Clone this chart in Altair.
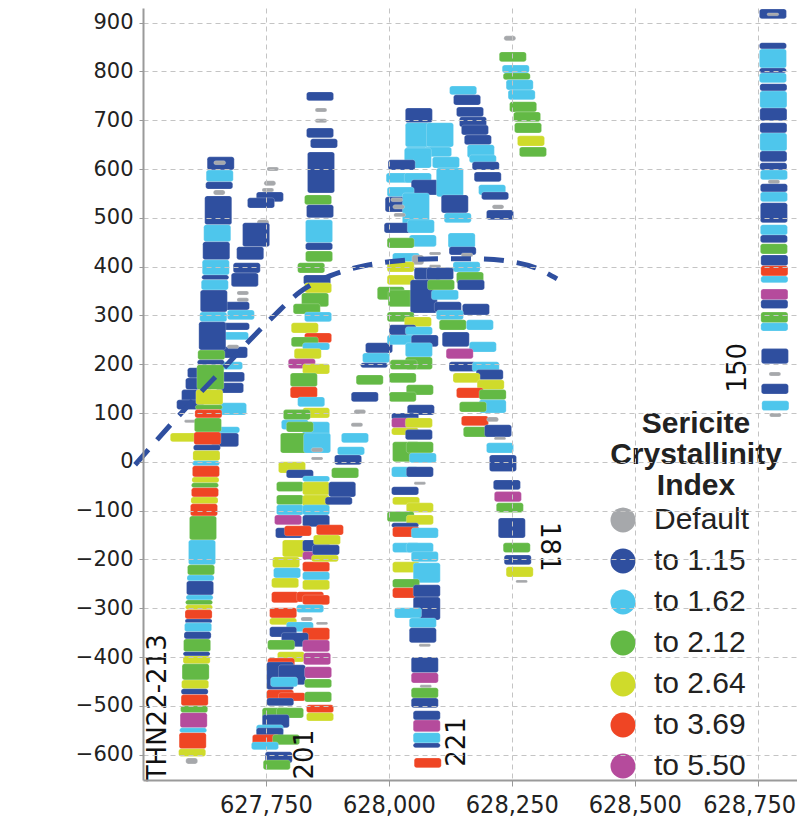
import altair as alt
import pandas as pd

# ---- classes -------------------------------------------------------------
class_labels = ["Default", "to 1.15", "to 1.62", "to 2.12", "to 2.64", "to 3.69", "to 5.50"]
class_colors = ["#a6a8ab", "#2f4f9f", "#4ec6ec", "#63b945", "#cfdb2b", "#ef4524", "#b54b9c"]

# ---- drill hole intervals: (easting, top elevation, bottom elevation, class index)
hole_213b = [
    (627764, 604, 596, 0), (627758, 576, 566, 0), (627754, 561, 553, 0),
    (627758, 553, 533, 1), (627740, 541, 520, 1), (627744, 496, 486, 0),
    (627730, 490, 441, 1), (627718, 441, 414, 1), (627711, 408, 387, 1),
    (627707, 387, 359, 1), (627703, 350, 342, 0), (627703, 336, 328, 0),
    (627689, 328, 311, 1), (627699, 311, 291, 2), (627689, 285, 270, 1),
    (627687, 266, 250, 2), (627685, 236, 213, 1), (627683, 240, 232, 0),
    (627675, 205, 189, 2), (627679, 184, 164, 1), (627677, 162, 141, 1),
    (627683, 121, 96, 2), (627669, 72, 59, 2), (627667, 59, 31, 1),
    (627618, 193, 172, 1), (627614, 172, 148, 1), (627606, 148, 123, 1),
    (627596, 127, 107, 1), (627583, 59, 41, 4), (627596, 86, 80, 0),
]

hole_213 = [
    (627658, 625, 598, 1), (627656, 617, 609, 0), (627656, 598, 574, 2),
    (627655, 574, 559, 1), (627655, 557, 547, 0), (627653, 545, 486, 1),
    (627651, 486, 451, 2), (627649, 451, 414, 1), (627648, 414, 383, 2),
    (627647, 383, 373, 1), (627646, 373, 352, 2), (627644, 352, 307, 1),
    (627643, 307, 287, 2), (627641, 287, 229, 1), (627639, 229, 209, 3),
    (627638, 209, 199, 1), (627637, 199, 148, 3), (627635, 148, 117, 4),
    (627634, 117, 107, 3), (627633, 107, 90, 5), (627632, 90, 61, 3),
    (627631, 61, 35, 5), (627630, 35, 23, 1), (627629, 23, 2, 4),
    (627628, 2, -8, 2), (627628, -8, -31, 5), (627627, -31, -43, 4),
    (627626, -43, -53, 3), (627626, -53, -72, 5), (627625, -72, -86, 4),
    (627624, -86, -111, 5), (627622, -111, -160, 3), (627620, -160, -211, 2),
    (627618, -211, -232, 3), (627617, -232, -244, 2), (627616, -244, -273, 1),
    (627615, -273, -283, 2), (627614, -283, -293, 3), (627614, -293, -303, 4),
    (627613, -303, -322, 5), (627613, -322, -330, 1), (627612, -330, -348, 2),
    (627611, -348, -363, 1), (627610, -363, -389, 3), (627609, -389, -398, 1),
    (627609, -398, -414, 4), (627607, -414, -447, 3), (627606, -447, -465, 4),
    (627605, -465, -477, 1), (627605, -477, -500, 5), (627604, -500, -514, 3),
    (627603, -514, -545, 6), (627602, -545, -555, 2), (627601, -555, -588, 5),
    (627600, -588, -604, 4), (627599, -607, -619, 0),
]

hole_201 = [
    (627860, 758, 740, 1), (627862, 725, 717, 0), (627862, 703, 695, 0),
    (627860, 684, 664, 1), (627868, 662, 643, 1), (627862, 635, 551, 1),
    (627856, 547, 527, 3), (627860, 527, 500, 1), (627858, 496, 449, 2),
    (627858, 449, 434, 1), (627858, 432, 410, 3), (627842, 408, 387, 3),
    (627854, 383, 363, 1), (627856, 367, 346, 4), (627850, 346, 318, 3),
    (627833, 324, 303, 3), (627856, 307, 287, 2), (627829, 285, 264, 4),
    (627856, 264, 244, 5), (627829, 256, 236, 3), (627852, 244, 229, 2),
    (627835, 232, 211, 4), (627823, 211, 191, 6), (627852, 201, 180, 4),
    (627827, 182, 154, 3), (627827, 154, 131, 5), (627842, 133, 113, 2),
    (627852, 111, 90, 4), (627813, 107, 86, 3), (627852, 82, 45, 2),
    (627809, 86, 66, 2), (627819, 82, 61, 3), (627807, 59, 18, 3),
    (627854, 59, 18, 2), (627854, 29, 20, 0), (627854, 10, 4, 0),
    (627803, 0, -23, 4), (627819, -16, -33, 1), (627852, -29, -41, 2),
    (627799, -41, -61, 3), (627852, -41, -68, 4), (627799, -68, -88, 3),
    (627852, -68, -92, 4), (627799, -88, -109, 2), (627852, -88, -109, 2),
    (627795, -109, -129, 6), (627852, -109, -133, 1), (627797, -135, -156, 1),
    (627815, -131, -152, 5), (627811, -160, -195, 4), (627852, -160, -184, 1),
    (627852, -184, -201, 6), (627791, -195, -217, 4), (627852, -205, -225, 5),
    (627793, -217, -238, 2), (627852, -225, -242, 2), (627789, -238, -258, 4),
    (627852, -242, -262, 4), (627789, -266, -289, 5), (627840, -266, -287, 5),
    (627852, -273, -293, 5), (627840, -293, -309, 2), (627785, -299, -320, 5),
    (627785, -320, -334, 4), (627833, -318, -326, 0), (627864, -328, -334, 0),
    (627819, -328, -348, 2), (627785, -338, -359, 1), (627852, -340, -365, 5),
    (627809, -350, -379, 1), (627781, -365, -385, 3), (627852, -365, -389, 6),
    (627801, -389, -410, 4), (627854, -391, -416, 6), (627781, -402, -422, 5),
    (627779, -410, -467, 1), (627803, -416, -457, 1), (627856, -420, -443, 6),
    (627787, -441, -461, 2), (627856, -445, -463, 3), (627779, -467, -488, 5),
    (627803, -473, -490, 5), (627856, -471, -492, 3), (627779, -484, -500, 1),
    (627860, -498, -514, 5), (627860, -514, -531, 4), (627770, -504, -525, 3),
    (627799, -504, -525, 3), (627770, -518, -545, 1), (627758, -539, -559, 2),
    (627758, -545, -570, 1), (627750, -559, -580, 5), (627791, -559, -580, 3),
    (627748, -574, -590, 2), (627776, -594, -617, 1), (627772, -611, -631, 3),
]

hole_mid = [
    (627980, 244, 223, 1), (627974, 223, 203, 2), (627970, 203, 193, 1),
    (627961, 178, 158, 3), (627951, 143, 123, 1), (627941, 107, 98, 0),
    (627935, 80, 72, 0), (627931, 59, 39, 2), (627923, 31, 14, 2),
    (627917, 14, -6, 1), (627911, -12, -33, 3), (627905, -41, -72, 1),
    (627898, -72, -88, 1), (627880, -129, -150, 5), (627874, -150, -170, 4),
    (627872, -170, -191, 1), (627870, -191, -205, 4),
]

hole_221 = [
    (628061, 725, 695, 1), (628061, 695, 645, 2), (628104, 695, 645, 2),
    (628061, 645, 625, 2), (628100, 645, 625, 2), (628059, 643, 602, 2),
    (628116, 625, 602, 2), (628026, 619, 598, 1), (628022, 592, 572, 2),
    (628059, 592, 572, 2), (628073, 578, 547, 1), (628124, 602, 543, 2),
    (628024, 563, 543, 2), (628020, 543, 512, 1), (628055, 551, 482, 2),
    (628016, 541, 533, 0), (628020, 527, 518, 0), (628022, 510, 502, 0),
    (628134, 547, 510, 1), (628140, 510, 490, 2), (628018, 490, 469, 1),
    (628065, 496, 469, 2), (628069, 465, 441, 2), (628024, 459, 438, 3),
    (628148, 469, 438, 2), (628150, 441, 424, 1), (628035, 428, 410, 2),
    (628059, 424, 404, 0), (628094, 430, 424, 0), (628094, 404, 398, 0),
    (628159, 428, 420, 0), (628158, 410, 389, 2), (628024, 410, 389, 4),
    (628024, 383, 363, 4), (628079, 398, 373, 1), (628104, 398, 373, 1),
    (628165, 389, 365, 3), (628004, 359, 332, 3), (628026, 352, 318, 3),
    (628071, 373, 305, 1), (628106, 373, 352, 3), (628114, 352, 332, 2),
    (628167, 373, 352, 1), (628120, 328, 307, 1), (628177, 324, 301, 1),
    (628024, 307, 287, 3), (628059, 297, 277, 4), (628124, 311, 291, 2),
    (628130, 291, 270, 3), (628185, 291, 270, 2), (628028, 281, 260, 1),
    (628061, 277, 260, 2), (628024, 260, 240, 2), (628073, 260, 236, 1),
    (628136, 266, 236, 1), (628191, 246, 225, 2), (628061, 244, 215, 2),
    (628144, 232, 211, 6), (628061, 215, 189, 3), (628030, 209, 189, 3),
    (628150, 205, 185, 1), (628197, 205, 185, 2), (628205, 189, 168, 1),
    (628028, 182, 162, 3), (628158, 182, 162, 4), (628207, 168, 148, 4),
    (628063, 158, 137, 3), (628165, 152, 131, 5), (628028, 143, 123, 3),
    (628211, 148, 127, 3), (628211, 127, 100, 2), (628065, 117, 96, 1),
    (628171, 123, 102, 3), (628033, 100, 86, 1), (628033, 90, 70, 6),
    (628061, 90, 70, 4), (628033, 70, 55, 4), (628175, 94, 74, 5),
    (628179, 72, 51, 3), (628222, 76, 51, 1), (628211, 92, 82, 0),
    (628061, 66, 45, 1),
    (628035, 41, 0, 3), (628063, 41, 18, 3), (628069, 18, -2, 2),
    (628033, -10, -31, 2), (628063, -10, -31, 1), (628063, -41, -47, 0),
    (628033, -51, -68, 1), (628035, -72, -88, 4), (628063, -84, -104, 4),
    (628024, -102, -123, 3), (628063, -109, -129, 4), (628033, -125, -135, 1),
    (628035, -133, -154, 5), (628073, -135, -156, 2), (628035, -166, -186, 2),
    (628063, -166, -186, 2), (628073, -184, -205, 2), (628035, -205, -227, 4),
    (628077, -207, -248, 2), (628035, -240, -258, 3), (628035, -258, -279, 5),
    (628077, -252, -277, 1), (628077, -277, -324, 1), (628039, -299, -320, 2),
    (628069, -320, -340, 2), (628069, -340, -371, 1), (628073, -373, -379, 0),
    (628073, -400, -432, 1), (628073, -432, -453, 6), (628075, -457, -463, 0),
    (628073, -463, -484, 3), (628073, -484, -504, 1), (628077, -510, -529, 1),
    (628077, -529, -553, 6), (628077, -555, -576, 2), (628077, -576, -586, 1),
    (628079, -607, -627, 5),
]

hole_181 = [
    (628226, 51, 45, 0), (628226, 39, 18, 2), (628232, 14, -20, 1),
    (628240, -37, -57, 1), (628242, -61, -82, 6), (628246, -84, -104, 3),
    (628250, -115, -156, 1), (628260, -166, -186, 3), (628262, -191, -211, 1),
    (628266, -215, -236, 4), (628270, -242, -248, 0),
]

hole_east = [
    (628151, 770, 752, 2), (628159, 752, 731, 1), (628165, 727, 707, 1),
    (628171, 707, 686, 1), (628175, 690, 670, 1), (628181, 670, 650, 1),
    (628187, 650, 623, 2), (628191, 629, 613, 2), (628197, 615, 598, 1),
    (628201, 594, 574, 1), (628210, 568, 547, 2), (628216, 553, 537, 1),
    (628222, 527, 518, 0), (628226, 516, 496, 1),
]

hole_top = [
    (628246, 873, 863, 0), (628252, 840, 820, 3), (628258, 813, 797, 2),
    (628260, 797, 783, 3), (628266, 783, 762, 2), (628270, 762, 742, 2),
    (628273, 738, 717, 3), (628281, 717, 697, 3), (628283, 695, 674, 3),
    (628289, 668, 647, 4), (628293, 645, 625, 3),
]

hole_150 = [
    (628781, 928, 908, 1), (628781, 920, 914, 0), (628781, 859, 846, 1),
    (628781, 846, 807, 2), (628781, 807, 797, 1), (628781, 797, 777, 2),
    (628782, 775, 760, 1), (628782, 760, 725, 2), (628782, 725, 699, 1),
    (628782, 695, 674, 1), (628782, 674, 637, 2), (628782, 637, 615, 1),
    (628782, 613, 598, 1), (628783, 598, 578, 2), (628783, 578, 570, 0),
    (628783, 570, 553, 1), (628783, 553, 533, 2), (628783, 531, 490, 1),
    (628783, 486, 465, 2), (628783, 465, 449, 1), (628783, 447, 426, 3),
    (628784, 424, 402, 1), (628784, 402, 381, 5), (628784, 381, 367, 2),
    (628784, 354, 332, 6), (628784, 332, 314, 1), (628784, 307, 285, 3),
    (628784, 285, 268, 2), (628785, 232, 201, 1), (628785, 184, 176, 0),
    (628785, 160, 139, 1), (628786, 125, 105, 2), (628786, 100, 92, 0),
]

# ---- dashed interpretive curve (easting, elevation)
curve_e = [627484, 627565, 627616, 627667, 627718, 627768, 627819, 627880,
           627951, 628022, 628098, 628177, 628250, 628297, 628342]
curve_z = [-6, 86, 141, 195, 250, 301, 348, 381, 402, 412, 416, 416, 410, 398, 375]

# ---- hole labels
label_text = ["THN22-213", "201", "221", "181", "150"]
label_e = [627530, 627829, 628138, 628325, 628710]
label_z = [-504, -600, -574, -174, 193]
label_angle = [270, 270, 270, 90, 270]

# ---- build tables
rows = []
for name, segs in [("213b", hole_213b), ("213", hole_213), ("201", hole_201),
                   ("mid", hole_mid), ("221", hole_221), ("181", hole_181),
                   ("east", hole_east), ("top", hole_top), ("150", hole_150)]:
    for e, top, bot, c in segs:
        rows.append({"hole": name, "e": e, "top": top, "bot": bot,
                     "cls": class_labels[c]})
seg_df = pd.DataFrame(rows)
seg_df["ord"] = range(len(seg_df))

curve_df = pd.DataFrame({"e": curve_e, "z": curve_z})
label_df = pd.DataFrame({"t": label_text, "e": label_e, "z": label_z, "a": label_angle})
title_df = pd.DataFrame({"t": ["Sericite\nCrystallinity\nIndex"]})

xscale = alt.Scale(domain=[627500, 628830], nice=False, zero=False)
yscale = alt.Scale(domain=[-652, 930], nice=False, zero=False)

xaxis = alt.Axis(values=[627750, 628000, 628250, 628500, 628750], format=",d",
                 labelFont="DejaVu Sans Condensed, Liberation Sans Narrow, sans-serif",
                 labelFontSize=25, labelColor="#222", labelPadding=6,
                 labelFlush=75, labelFlushOffset=38, labelOverlap=False,
                 tickSize=6, tickColor="#999", domainColor="#9a9a9a", domainWidth=2,
                 grid=True, gridColor="#c4c4c4", gridDash=[5, 4], gridWidth=1,
                 title=None, zindex=1)
yaxis = alt.Axis(values=list(range(-600, 901, 100)),
                 labelFont="DejaVu Sans", labelFontSize=21, labelColor="#222",
                 labelPadding=6, tickSize=4, tickColor="#999",
                 domainColor="#9a9a9a", domainWidth=2, labelOverlap=False,
                 grid=True, gridColor="#c4c4c4", gridDash=[5, 4], gridWidth=1,
                 title=None, zindex=1)

bars = alt.Chart(seg_df).transform_calculate(
    hw="datum.cls == 'Default' ? 12 : 27.5"
).transform_calculate(
    x0="datum.e - datum.hw", x1="datum.e + datum.hw"
).mark_rect(cornerRadius=2.5, stroke="white", strokeWidth=0.6, strokeOpacity=0.35).encode(
    x=alt.X("x0:Q", scale=xscale, axis=xaxis),
    x2="x1:Q",
    y=alt.Y("top:Q", scale=yscale, axis=yaxis),
    y2="bot:Q",
    color=alt.Color("cls:N", title=None,
                    scale=alt.Scale(domain=class_labels, range=class_colors),
                    legend=alt.Legend(orient="none", legendX=465, legendY=497,
                                      symbolType="circle", symbolSize=625,
                                      symbolStrokeWidth=0, symbolOpacity=1,
                                      labelFont="Liberation Sans", labelFontSize=30,
                                      labelColor="#222", labelOffset=16,
                                      rowPadding=11, padding=0)),
    order=alt.Order("ord:Q"),
)

curve = alt.Chart(curve_df).mark_line(
    color="#2f4f9f", strokeWidth=5, strokeDash=[20, 13], interpolate="monotone",
    strokeCap="butt"
).encode(x=alt.X("e:Q", scale=xscale), y=alt.Y("z:Q", scale=yscale))

labels = alt.Chart(label_df).mark_text(
    font="DejaVu Sans", fontSize=26, color="#111", align="center", baseline="middle"
).encode(
    x=alt.X("e:Q", scale=xscale), y=alt.Y("z:Q", scale=yscale),
    text="t:N", angle=alt.Angle("a:Q", scale=None),
)

legend_title = alt.Chart(title_df).mark_text(
    font="Liberation Sans", fontSize=30, fontWeight="bold", color="#222",
    align="center", baseline="alphabetic", lineBreak="\n", lineHeight=31
).encode(text="t:N", x=alt.value(553), y=alt.value(425))

chart = alt.layer(bars, curve, labels, legend_title).properties(
    width=654, height=772,
    autosize=alt.AutoSizeParams(type="none"),
    padding={"left": 135, "top": 0, "right": 0, "bottom": 47},
).configure_view(stroke=None)

chart.save("out.html", embed_options={"renderer": "svg", "actions": False})
